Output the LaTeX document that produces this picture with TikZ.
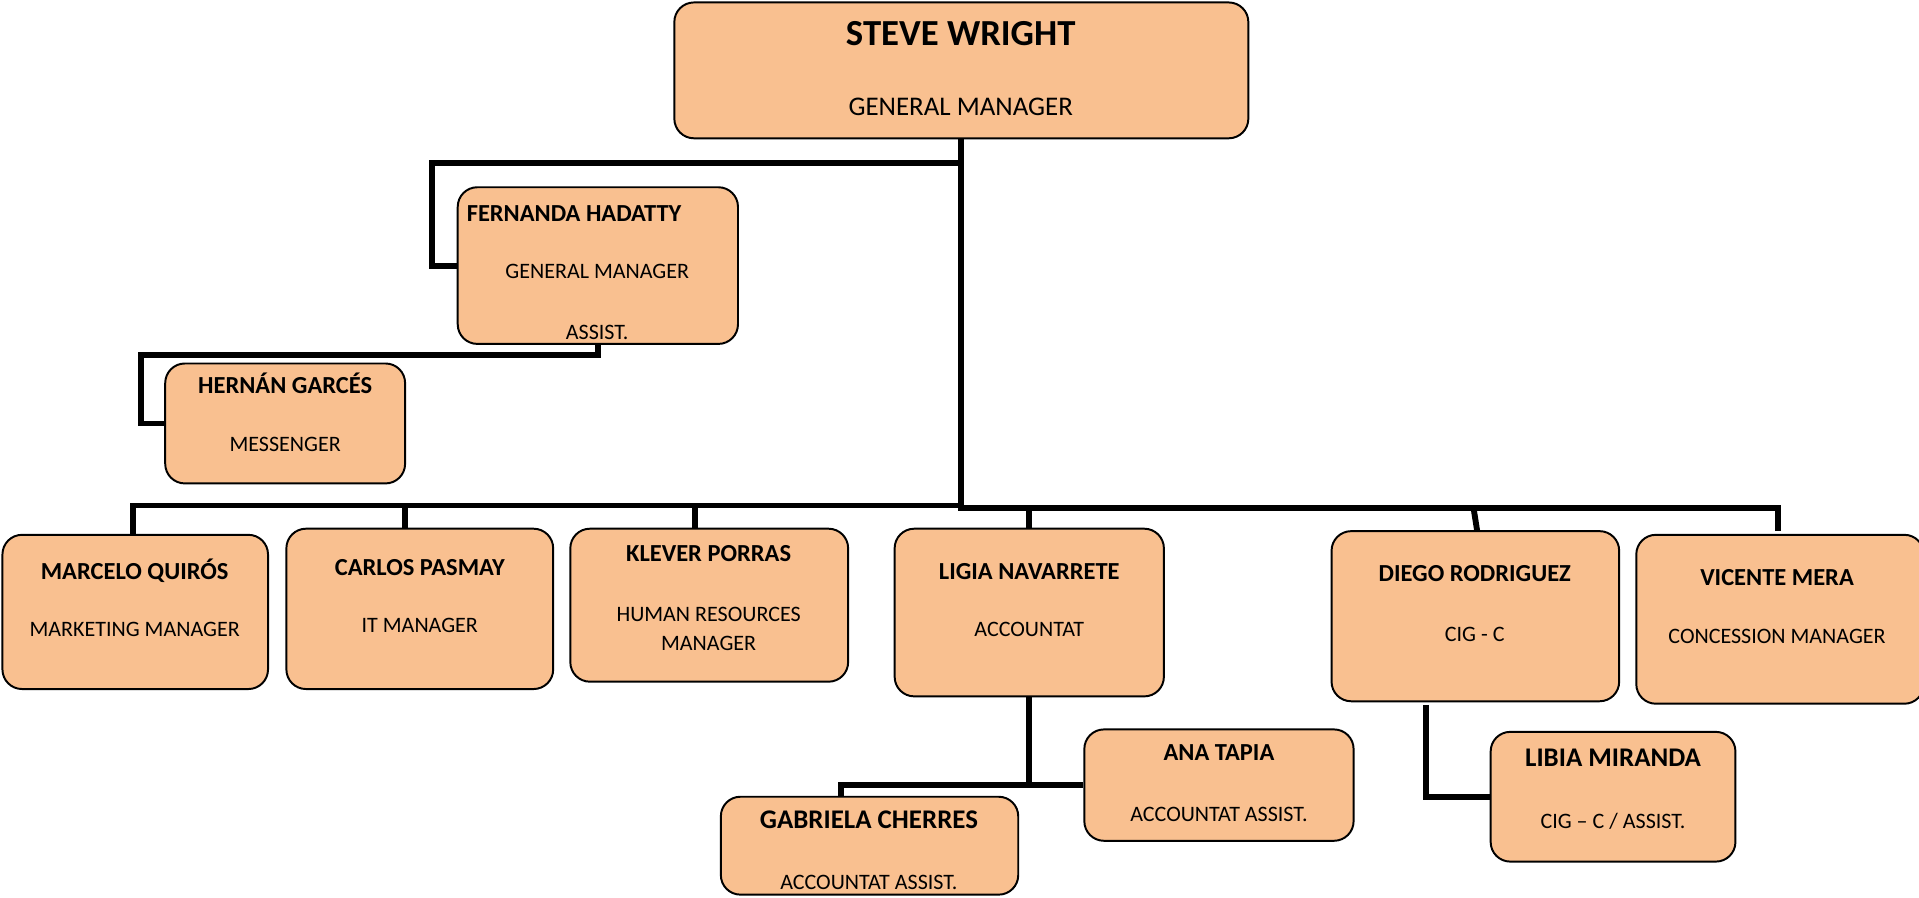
\documentclass[tikz,border=0pt]{standalone}
\usepackage{fontspec}
\setmainfont{Carlito}
\usetikzlibrary{fit}
\definecolor{boxfill}{HTML}{F9C090}
\begin{document}
\begin{tikzpicture}[x=0.5pt,y=-0.5pt,
  box/.style={draw=black, line width=0.8pt, fill=boxfill, rounded corners=8pt, inner sep=0pt},
  conn/.style={draw=black, line width=2.4pt},
  txt/.style={inner sep=0pt, anchor=mid, yshift=-1.2pt},
  nm/.style={txt, font=\bfseries\fontsize{10}{12}\selectfont},
  bignm/.style={txt, font=\bfseries\fontsize{11}{13}\selectfont},
  tl/.style={txt, font=\fontsize{9}{11}\selectfont},
]
\clip (0,0) rectangle (1568,733);

% boxes
\node[box, fit={(551,2) (1020,113)}] (steve) {};
\node[box, fit={(374,153) (603,281)}] (fern) {};
\node[box, fit={(135,297) (331,395)}] (hern) {};
\node[box, fit={(2,437) (219,563)}] (marc) {};
\node[box, fit={(234,432) (452,563)}] (carl) {};
\node[box, fit={(466,432) (693,557)}] (klev) {};
\node[box, fit={(731,432) (951,569)}] (ligia) {};
\node[box, fit={(1088,434) (1323,573)}] (diego) {};
\node[box, fit={(1337,437) (1572,575)}] (vic) {};
\node[box, fit={(886,596) (1106,687)}] (ana) {};
\node[box, fit={(589,651) (832,731)}] (gab) {};
\node[box, fit={(1218,598) (1418,704)}] (libia) {};

% texts
\node[txt, yshift=-0.8pt, font=\bfseries\fontsize{15}{18}\selectfont] (steve-n) at (785,28) {STEVE WRIGHT};
\node[txt, font=\fontsize{11}{13}\selectfont] (steve-t) at (785,87) {GENERAL MANAGER};

\node[nm, anchor=mid west] (fern-n) at (381,174) {FERNANDA HADATTY};
\node[tl] (fern-t) at (488,220) {GENERAL MANAGER};
\node[tl] (fern-t2) at (488,270) {ASSIST.};

\node[nm] (hern-n) at (233,314) {HERNÁN GARCÉS};
\node[tl] (hern-t) at (233,362) {MESSENGER};

\node[nm] (marc-n) at (110,466) {MARCELO QUIRÓS};
\node[tl] (marc-t) at (110,513) {MARKETING MANAGER};

\node[nm] (carl-n) at (343,463) {CARLOS PASMAY};
\node[tl] (carl-t) at (343,510) {IT MANAGER};

\node[nm] (klev-n) at (579,452) {KLEVER PORRAS};
\node[tl] (klev-t) at (579,501) {HUMAN RESOURCES};
\node[tl] (klev-t2) at (579,524) {MANAGER};

\node[nm] (ligia-n) at (841,466) {LIGIA NAVARRETE};
\node[tl] (ligia-t) at (841,513) {ACCOUNTAT};

\node[nm] (diego-n) at (1205,468) {DIEGO RODRIGUEZ};
\node[tl] (diego-t) at (1205,517) {CIG - C};

\node[nm] (vic-n) at (1452,471) {VICENTE MERA};
\node[tl] (vic-t) at (1452,519) {CONCESSION MANAGER};

\node[nm] (ana-n) at (996,614) {ANA TAPIA};
\node[tl] (ana-t) at (996,664) {ACCOUNTAT ASSIST.};

\node[bignm] (gab-n) at (710,670) {GABRIELA CHERRES};
\node[tl] (gab-t) at (710,720) {ACCOUNTAT ASSIST.};

\node[bignm] (libia-n) at (1318,619) {LIBIA MIRANDA};
\node[tl] (libia-t) at (1318,670) {CIG – C / ASSIST.};

% connector coordinates
\coordinate (busL) at (785.5,413);
\coordinate (busR) at (785.5,415);
\coordinate (vd) at (1453,434);
\coordinate (fa) at (353,133);
\coordinate (ha) at (115,290);
\coordinate (cd) at (331,413);
\coordinate (kd) at (568,413);
\coordinate (dtop) at (1204,415);
\coordinate (dbot) at (1207,434);
\coordinate (la) at (841,640);
\coordinate (gd) at (687,651);
\coordinate (dd) at (1165,576);

% connectors
\draw[conn] (steve.south) -- (busR) -| (vd);
\draw[conn] (marc.north -| 109,0) |- (busL);
\draw[conn] (fa -| steve.south) -- (fa) |- (fern.west);
\draw[conn] (fern.south) |- (ha) |- (hern.west);
\draw[conn] (cd) -- (cd |- carl.north);
\draw[conn] (kd) -- (kd |- klev.north);
\draw[conn] (ligia.north |- busR) -- (ligia.north);
\draw[conn] (dtop) -- (dbot);
\draw[conn] (ligia.south) -- (la);
\draw[conn] (gd) |- (ana.west);
\draw[conn] (dd) |- (libia.west);
\end{tikzpicture}
\end{document}
